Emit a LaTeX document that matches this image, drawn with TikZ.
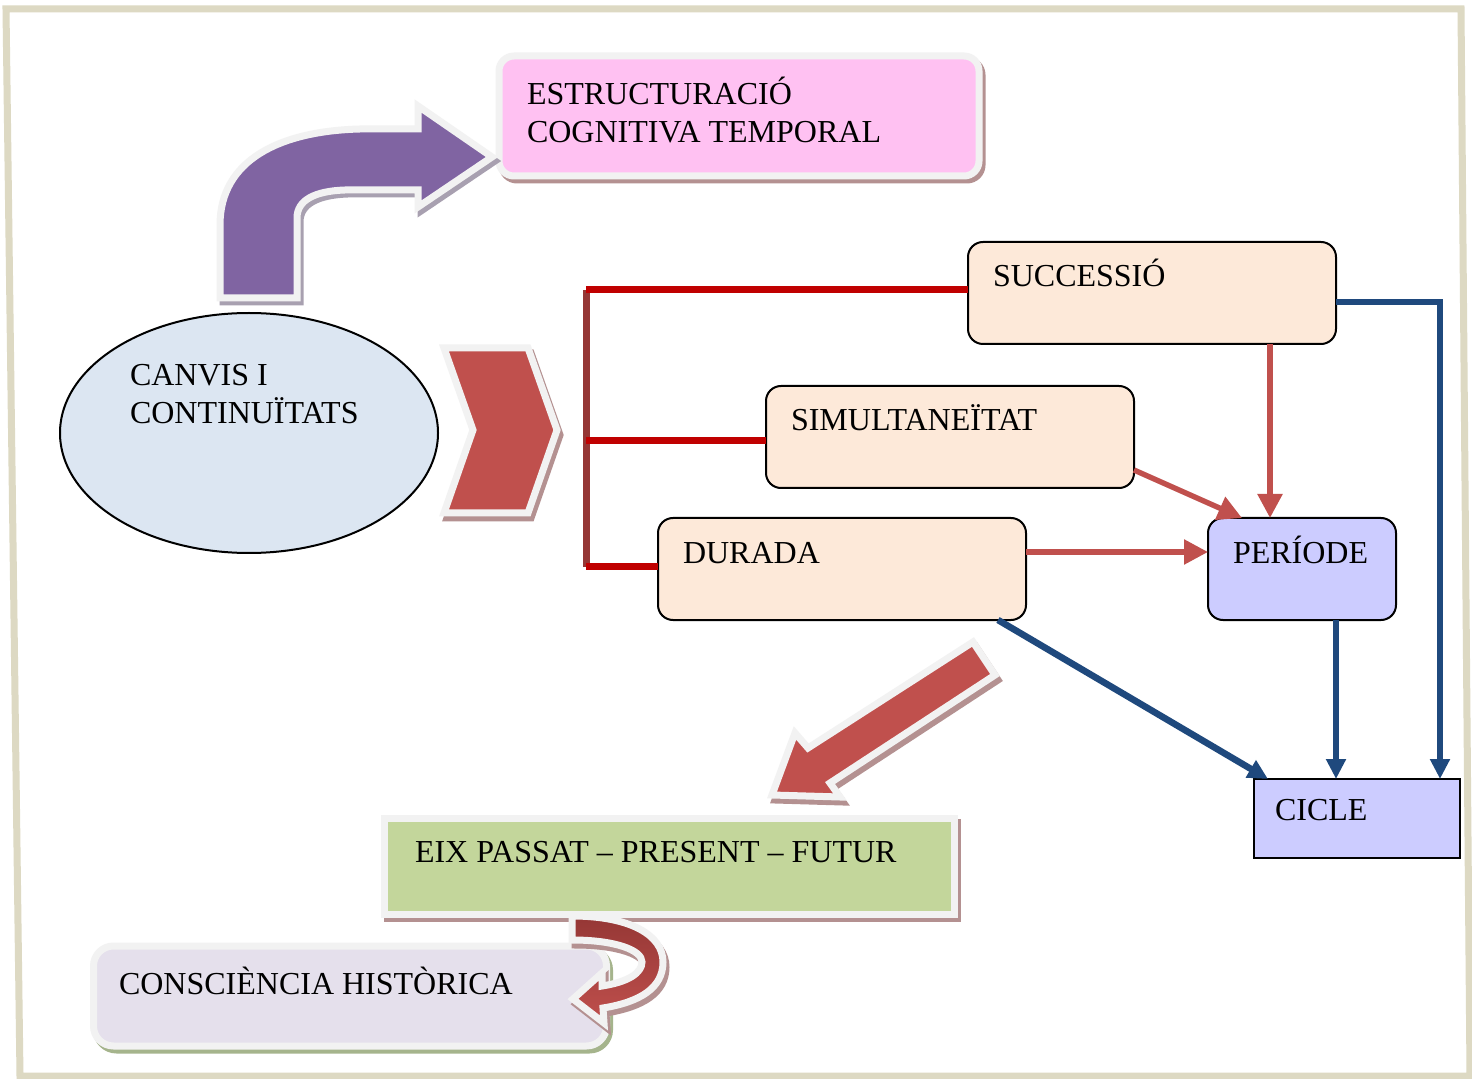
\documentclass[tikz,border=0pt]{standalone}
\usepackage{fontspec}
\setmainfont{Liberation Serif}
\usetikzlibrary{arrows.meta,calc,shapes.geometric}

\definecolor{frameC}{RGB}{221,217,195}
\definecolor{glowC}{RGB}{242,242,242}
\definecolor{purpC}{RGB}{128,100,162}
\definecolor{purpSh}{RGB}{168,160,176}
\definecolor{redC}{RGB}{192,80,77}
\definecolor{redDk}{RGB}{149,55,53}
\definecolor{redSh}{RGB}{180,145,145}
\definecolor{lineRed}{RGB}{192,0,0}
\definecolor{blueC}{RGB}{31,73,125}
\definecolor{pinkC}{RGB}{255,193,242}
\definecolor{skyC}{RGB}{220,230,242}
\definecolor{peachC}{RGB}{253,233,217}
\definecolor{lavC}{RGB}{204,204,255}
\definecolor{greenC}{RGB}{195,214,155}
\definecolor{lilacC}{RGB}{229,224,236}
\definecolor{greenSh}{RGB}{165,180,140}

% block shapes, drawn once as a shadow and once on top
\newcommand\bentArrowPath[1]{\path[#1] (418,129) -- (360,129)
  .. controls (280,131) and (220,160) .. (220,225) -- (220,298) -- (297,298) -- (297,218)
  .. controls (297,200) and (315,191) .. (345,190) -- (418,190) -- (418,207)
  -- (492,157) -- (418,106) -- cycle;}
\newcommand\chevronPath[1]{\path[#1] (444,348) -- (528,348) -- (557,430)
  -- (528,513) -- (444,513) -- (473,430) -- cycle;}
\newcommand\diagArrowPath[1]{\path[#1] (973,642) -- (995,675) -- (830,783)
  -- (840,797) -- (772,795) -- (795,733) -- (808,748) -- cycle;}
\newcommand\turnArrowPath[1]{\path[#1] (572,916)
  .. controls (630,916) and (663,935) .. (663,962)
  .. controls (663,988) and (640,1002) .. (603,1008)
  -- (604,1023) -- (573,999) -- (602,973) -- (602,986)
  .. controls (628,982) and (642,973) .. (642,962)
  .. controls (642,950) and (615,940) .. (572,940) -- cycle;}

\begin{document}
\begin{tikzpicture}[x=0.5pt,y=-0.5pt,
  lbl/.style={anchor=base west, inner sep=0pt, outer sep=0pt, font=\fontsize{16}{19}\selectfont},
  stage/.style={draw=black, line width=1pt, rounded corners=7.5pt, fill=peachC,
    inner sep=0pt, outer sep=0pt, minimum width=184pt, minimum height=51pt},
  glowbox/.style={draw=glowC, line width=3.5pt, inner sep=0pt, outer sep=0pt,
    preaction={draw=#1, fill=#1, line width=3.5pt, transform canvas={xshift=1.5pt, yshift=-2pt}}},
  glowshape/.style={draw=glowC, line width=3.5pt, line join=miter},
  shadowshape/.style={draw=#1, fill=#1, line width=3.5pt, line join=miter},
  redline/.style={draw=redC, line width=2.7pt, -{Triangle[length=12pt,width=12pt]}},
  blueline/.style={draw=blueC, line width=3.3pt, line join=miter, -{Triangle[length=10pt,width=9.5pt]}},
  barline/.style={draw=lineRed, line width=3.5pt}]

\useasboundingbox (0,0) rectangle (1472,1079);
\fill[white] (0,0) rectangle (1472,1079);

% page frame
\draw[frameC, line width=3.5pt, line join=miter] (6,9) -- (1461,9) -- (1470,1076) -- (20,1076) -- cycle;

% top goal box
\node[glowbox=redSh, fill=pinkC, rounded corners=7.5pt, minimum width=240pt, minimum height=60pt] (est) at (739,116) {};
\node[lbl] (estA) at (527,105) {ESTRUCTURACIÓ};
\node[lbl] (estB) at (527,143) {COGNITIVA TEMPORAL};

% bent arrow up to the goal
\bentArrowPath{shadowshape=purpSh, shift={(3,4)}}
\bentArrowPath{glowshape, fill=purpC}

% starting concept
\node[ellipse, draw=black, line width=1pt, fill=skyC, minimum width=189pt, minimum height=120pt, inner sep=0pt] (canvis) at (249,433) {};
\node[lbl] (canA) at (130,386) {CANVIS I};
\node[lbl] (canB) at (130,424) {CONTINUÏTATS};

% chevron
\chevronPath{shadowshape=redSh, shift={(3,5)}}
\chevronPath{glowshape, fill=redC}

% concept boxes
\node[stage] (succ) at (1152,293) {};
\node[stage] (sim) at (950,437) {};
\node[stage] (dur) at (842,569) {};
\node[stage, fill=lavC, minimum width=94pt] (per) at (1302,569) {};
\node[draw=black, line width=1pt, fill=lavC, inner sep=0pt, outer sep=0pt,
  minimum width=103pt, minimum height=39.5pt] (cic) at (1357,818.5) {};

\node[lbl] (succT) at (993,287) {SUCCESSIÓ};
\node[lbl] (simT) at (791,431) {SIMULTANEÏTAT};
\node[lbl] (durT) at (683,564) {DURADA};
\node[lbl] (perT) at (1233,564) {PERÍODE};
\node[lbl] (cicT) at (1275,820) {CICLE};

% bracket
\coordinate (brT) at (586,290);
\coordinate (brM) at (586,441);
\coordinate (brB) at (586,567);
\draw[redDk, line width=3.5pt] (brT) -- (brB);
\draw[barline] (brT) -- (succ.west |- brT);
\draw[barline] (brM) -- (sim.west |- brM);
\draw[barline] (brB) -- (dur.west |- brB);

% red connectors
\draw[redline] ([xshift=59pt]succ.south) -- ([xshift=-16pt]per.north);
\draw[redline] ([yshift=-16.5pt]sim.east) -- ([xshift=17pt]per.north west);
\draw[redline] ([yshift=8.5pt]dur.east) -- ([yshift=8.5pt]per.west);

% blue connectors
\draw[blueline] ([yshift=-4.5pt]succ.east) -| ([xshift=41.5pt]cic.north);
\draw[blueline] ([xshift=17pt]per.south) -- ([xshift=17pt]per.south |- cic.north);
\draw[blueline] ([xshift=-14pt]dur.south east) -- ([xshift=7pt]cic.north west);

% diagonal block arrow
\diagArrowPath{shadowshape=redSh, shift={(3,5)}}
\diagArrowPath{glowshape, fill=redC}

% bottom boxes
\node[glowbox=redSh, fill=greenC, minimum width=285pt, minimum height=48pt] (eix) at (669,866) {};
\node[lbl] (eixT) at (415,862) {EIX PASSAT – PRESENT – FUTUR};

\node[glowbox=greenSh, fill=lilacC, rounded corners=10pt, minimum width=256.5pt, minimum height=50pt] (cons) at (350,996) {};
\node[lbl] (consT) at (119,994) {CONSCIÈNCIA HISTÒRICA};

% turning arrow
\turnArrowPath{shadowshape=redSh, shift={(3,5)}}
\turnArrowPath{glowshape, top color=redDk, bottom color=redC}

\end{tikzpicture}
\end{document}
